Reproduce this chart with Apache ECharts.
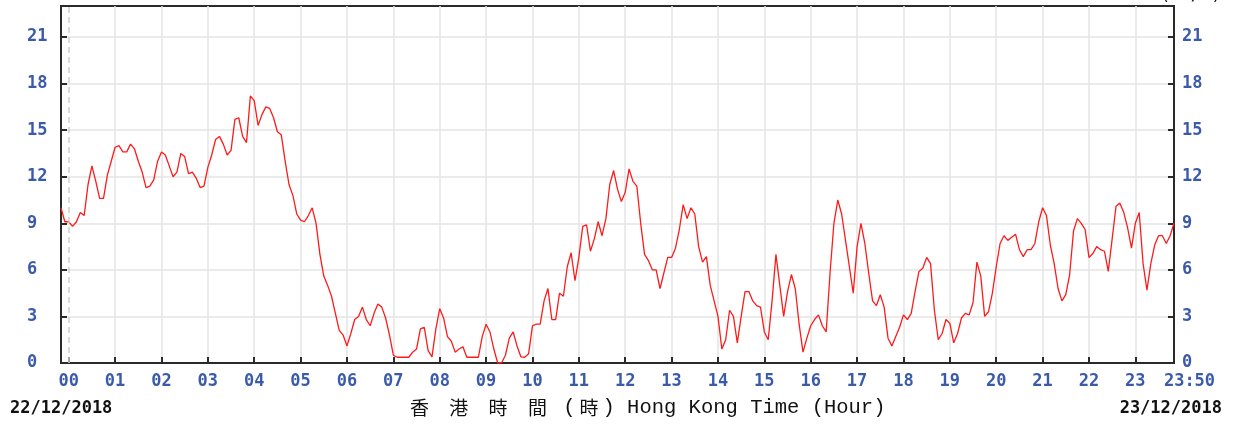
<!DOCTYPE html>
<html>
<head>
<meta charset="utf-8">
<script src="https://cdn.jsdelivr.net/npm/echarts@6/dist/echarts.min.js"></script>
<style>
html,body{margin:0;padding:0;background:#fff;}
#chart{width:1234px;height:425px;}
</style>
</head>
<body>
<div id="chart"></div>
<script>
// sampling: minutes relative to 00:00 on 22/12/2018, every 5 minutes from -10 (23:50 previous day)
const startMinute = -10;
const stepMinutes = 5;
// wind values (km/h), one per 5 minutes
const windValues = [
 10.0, 9.1,
 9.1, 8.8, 9.1, 9.7, 9.5, 11.5, 12.7, 11.7, 10.6, 10.6, 12.1, 13.0,
 13.9, 14.0, 13.6, 13.6, 14.1, 13.8, 13.0, 12.3, 11.3, 11.4, 11.8, 13.0,
 13.6, 13.4, 12.7, 12.0, 12.3, 13.5, 13.3, 12.2, 12.3, 11.9, 11.3, 11.4,
 12.6, 13.4, 14.4, 14.6, 14.1, 13.4, 13.7, 15.7, 15.8, 14.6, 14.2, 17.2,
 16.9, 15.3, 16.0, 16.5, 16.4, 15.8, 14.9, 14.7, 13.0, 11.5, 10.8, 9.6,
 9.2, 9.1, 9.5, 10.0, 9.0, 7.0, 5.6, 5.0, 4.3, 3.2, 2.1, 1.8,
 1.1, 1.9, 2.8, 3.0, 3.6, 2.8, 2.4, 3.2, 3.8, 3.6, 2.9, 1.8,
 0.5, 0.37, 0.37, 0.37, 0.37, 0.7, 0.9, 2.2, 2.3, 0.8, 0.4, 2.2,
 3.5, 2.9, 1.7, 1.4, 0.7, 0.9, 1.05, 0.37, 0.37, 0.37, 0.37, 1.7,
 2.5, 2.0, 0.9, 0, 0, 0.5, 1.6, 2.0, 1.1, 0.4, 0.37, 0.6,
 2.4, 2.5, 2.5, 4.0, 4.8, 2.8, 2.8, 4.5, 4.3, 6.2, 7.1, 5.3,
 6.8, 8.8, 8.9, 7.2, 8.0, 9.1, 8.2, 9.3, 11.5, 12.4, 11.2, 10.4,
 11.0, 12.5, 11.7, 11.4, 9.0, 7.0, 6.6, 6.0, 6.0, 4.8, 5.8, 6.8,
 6.8, 7.4, 8.6, 10.2, 9.3, 10.0, 9.6, 7.5, 6.5, 6.85, 5.0, 4.0,
 3.0, 0.9, 1.5, 3.4, 3.0, 1.3, 3.0, 4.6, 4.6, 4.0, 3.7, 3.6,
 2.0, 1.5, 4.0, 7.0, 5.0, 3.0, 4.6, 5.7, 4.8, 2.5, 0.7, 1.6,
 2.4, 2.8, 3.1, 2.4, 2.0, 5.8, 9.0, 10.5, 9.6, 7.9, 6.2, 4.5,
 7.5, 9.0, 7.7, 5.8, 4.0, 3.7, 4.4, 3.6, 1.6, 1.1, 1.7, 2.3,
 3.1, 2.8, 3.2, 4.6, 5.9, 6.1, 6.8, 6.4, 3.4, 1.5, 1.9, 2.8,
 2.55, 1.3, 1.9, 2.9, 3.2, 3.1, 3.9, 6.5, 5.6, 3.0, 3.3, 4.5,
 6.2, 7.7, 8.2, 7.9, 8.1, 8.3, 7.3, 6.85, 7.3, 7.3, 7.7, 9.1,
 10.0, 9.5, 7.6, 6.4, 4.8, 4.0, 4.4, 5.7, 8.5, 9.3, 9.0, 8.6,
 6.8, 7.05, 7.5, 7.3, 7.2, 5.9, 8.0, 10.1, 10.3, 9.7, 8.7, 7.4,
 9.0, 9.7, 6.4, 4.7, 6.4, 7.6, 8.2, 8.2, 7.7, 8.2, 9.0
];
// x-axis tick positions (minutes) and labels
const hourTicks = [0,60,120,180,240,300,360,420,480,540,600,660,720,780,840,900,960,1020,1080,1140,1200,1260,1320,1380];
const hourLabels = ['00','01','02','03','04','05','06','07','08','09','10','11','12','13','14','15','16','17','18','19','20','21','22','23'];
const endMinute = 1430;
const endLabel = '23:50';
const yTicks = [0,3,6,9,12,15,18,21];
const startDate = '22/12/2018';
const endDate = '23/12/2018';
const unitText = '(km/h)';

const seriesData = windValues.map((v, i) => [startMinute + i * stepMinutes, v]);

const blue = '#3b5ba9';
const monoBold = {fontFamily: 'DejaVu Sans Mono', fontWeight: 'bold', fontSize: 17};
const gridGray = '#e4e4e4';
const dark = '#2a2a2a';
const splitColors = hourTicks.map((t, i) => i === 0 ? 'rgba(0,0,0,0)' : gridGray);

const chart = echarts.init(document.getElementById('chart'), null, {renderer: 'canvas'});
chart.setOption({
  animation: false,
  backgroundColor: '#fff',
  grid: {left: 61, right: 60, top: 6, bottom: 62, show: true, borderColor: dark, borderWidth: 2, containLabel: false, outerBoundsMode: 'none', z: 0},
  xAxis: {
    type: 'value', min: startMinute, max: endMinute,
    axisLine: {show: true, onZero: false, lineStyle: {color: dark, width: 2}},
    axisTick: {show: true, inside: true, length: 6, customValues: hourTicks, lineStyle: {color: dark, width: 2}},
    axisLabel: {
      show: true, customValues: hourTicks.concat([endMinute]), margin: 10,
      color: blue, ...monoBold,
      formatter: function (v) {
        if (v === endMinute) return '{e|' + endLabel + '}';
        const idx = hourTicks.indexOf(v);
        return idx >= 0 ? hourLabels[idx] : '';
      },
      rich: {e: {color: blue, ...monoBold, padding: [0, 0, 0, 31]}}
    },
    splitLine: {show: true, lineStyle: {color: splitColors, width: 1.5}}
  },
  yAxis: [{
    type: 'value', position: 'left', min: 0, max: 23, interval: 3,
    axisLine: {show: true, onZero: false, lineStyle: {color: dark, width: 2}},
    axisTick: {show: true, inside: true, length: 6, lineStyle: {color: dark, width: 2}},
    axisLabel: {show: true, showMaxLabel: false, align: 'left', margin: 34, color: blue, ...monoBold,
      formatter: v => yTicks.indexOf(v) >= 0 ? String(v) : ''},
    splitLine: {show: true, showMaxLine: false, lineStyle: {color: gridGray, width: 1.5}}
  }, {
    type: 'value', position: 'right', min: 0, max: 23, interval: 3,
    axisLine: {show: true, onZero: false, lineStyle: {color: dark, width: 2}},
    axisTick: {show: true, inside: true, length: 6, lineStyle: {color: dark, width: 2}},
    axisLabel: {show: true, showMaxLabel: false, align: 'left', margin: 8, color: blue, ...monoBold,
      formatter: v => yTicks.indexOf(v) >= 0 ? String(v) : ''},
    splitLine: {show: false}
  }],
  series: [{
    type: 'line', xAxisIndex: 0, yAxisIndex: 0,
    data: seriesData, showSymbol: false,
    lineStyle: {color: '#ff1a1a', width: 1.3},
    itemStyle: {color: '#ff1a1a'},
    markLine: {
      silent: true, symbol: 'none', label: {show: false},
      lineStyle: {color: '#cfcfcf', type: [6, 4], width: 1.5},
      data: [{xAxis: 0}]
    },
    z: 3
  }],
  graphic: [
    {type: 'text', left: 10, top: 400, style: {text: startDate, fill: '#111', font: 'bold 17px "DejaVu Sans Mono"'}},
    {type: 'text', right: 12, top: 400, style: {text: endDate, fill: '#111', font: 'bold 17px "DejaVu Sans Mono"'}},
    {type: 'text', left: 1160, top: -13, style: {text: unitText, fill: '#111', font: '17px "DejaVu Sans Mono"'}},
    {type: 'text', left: 410, top: 397, style: {
      text: '{c|香} {c|港} {c|時} {c|間} ({c|時}) Hong Kong Time (Hour)',
      fill: '#111', font: '20.5px "Liberation Mono"',
      rich: {c: {fontFamily: 'Noto Sans CJK TC', fontSize: 19, width: 27, align: 'center', fill: '#111'}}
    }}
  ]
});
</script>
</body>
</html>
